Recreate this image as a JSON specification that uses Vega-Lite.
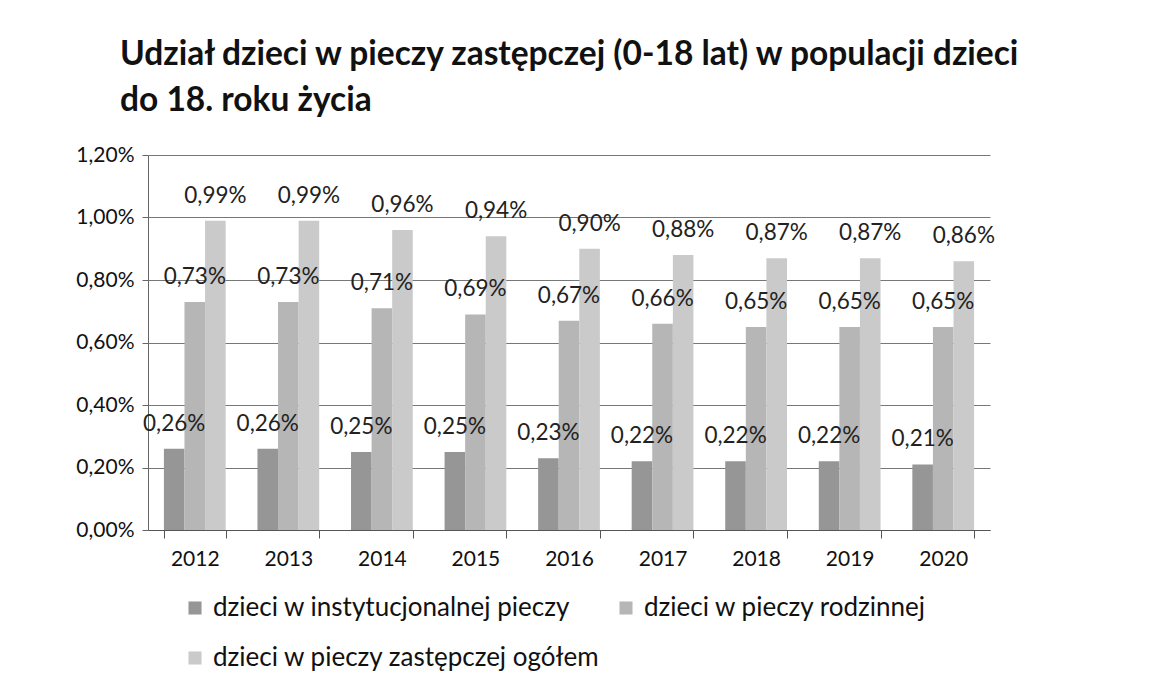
{
  "$schema": "https://vega.github.io/schema/vega-lite/v6.json",
  "width": 842,
  "height": 375,
  "autosize": {"type": "none"},
  "padding": {"left": 148, "top": 155, "right": 177, "bottom": 162},
  "background": "white",
  "title": {
    "text": ["Udział dzieci w pieczy zastępczej (0-18 lat) w populacji dzieci", "do 18. roku życia"],
    "anchor": "start",
    "frame": "group",
    "dx": -28,
    "offset": 26,
    "font": "Lato",
    "fontSize": 33.5,
    "fontWeight": "bold",
    "color": "#111",
    "lineHeight": 46
  },
  "config": {
    "locale": {"number": {"decimal": ",", "thousands": " ", "grouping": [3], "currency": ["", " zł"]}},
    "view": {"stroke": null},
    "font": "Lato"
  },
  "data": {
    "values": [
      {"rok": "2012", "seria": "dzieci w instytucjonalnej pieczy", "wartosc": 0.0026},
      {"rok": "2013", "seria": "dzieci w instytucjonalnej pieczy", "wartosc": 0.0026},
      {"rok": "2014", "seria": "dzieci w instytucjonalnej pieczy", "wartosc": 0.0025},
      {"rok": "2015", "seria": "dzieci w instytucjonalnej pieczy", "wartosc": 0.0025},
      {"rok": "2016", "seria": "dzieci w instytucjonalnej pieczy", "wartosc": 0.0023},
      {"rok": "2017", "seria": "dzieci w instytucjonalnej pieczy", "wartosc": 0.0022},
      {"rok": "2018", "seria": "dzieci w instytucjonalnej pieczy", "wartosc": 0.0022},
      {"rok": "2019", "seria": "dzieci w instytucjonalnej pieczy", "wartosc": 0.0022},
      {"rok": "2020", "seria": "dzieci w instytucjonalnej pieczy", "wartosc": 0.0021},
      {"rok": "2012", "seria": "dzieci w pieczy rodzinnej", "wartosc": 0.0073},
      {"rok": "2013", "seria": "dzieci w pieczy rodzinnej", "wartosc": 0.0073},
      {"rok": "2014", "seria": "dzieci w pieczy rodzinnej", "wartosc": 0.0071},
      {"rok": "2015", "seria": "dzieci w pieczy rodzinnej", "wartosc": 0.0069},
      {"rok": "2016", "seria": "dzieci w pieczy rodzinnej", "wartosc": 0.0067},
      {"rok": "2017", "seria": "dzieci w pieczy rodzinnej", "wartosc": 0.0066},
      {"rok": "2018", "seria": "dzieci w pieczy rodzinnej", "wartosc": 0.0065},
      {"rok": "2019", "seria": "dzieci w pieczy rodzinnej", "wartosc": 0.0065},
      {"rok": "2020", "seria": "dzieci w pieczy rodzinnej", "wartosc": 0.0065},
      {"rok": "2012", "seria": "dzieci w pieczy zastępczej ogółem", "wartosc": 0.0099},
      {"rok": "2013", "seria": "dzieci w pieczy zastępczej ogółem", "wartosc": 0.0099},
      {"rok": "2014", "seria": "dzieci w pieczy zastępczej ogółem", "wartosc": 0.0096},
      {"rok": "2015", "seria": "dzieci w pieczy zastępczej ogółem", "wartosc": 0.0094},
      {"rok": "2016", "seria": "dzieci w pieczy zastępczej ogółem", "wartosc": 0.0090},
      {"rok": "2017", "seria": "dzieci w pieczy zastępczej ogółem", "wartosc": 0.0088},
      {"rok": "2018", "seria": "dzieci w pieczy zastępczej ogółem", "wartosc": 0.0087},
      {"rok": "2019", "seria": "dzieci w pieczy zastępczej ogółem", "wartosc": 0.0087},
      {"rok": "2020", "seria": "dzieci w pieczy zastępczej ogółem", "wartosc": 0.0086}
    ]
  },
  "encoding": {
    "x": {
      "field": "rok", "type": "nominal",
      "scale": {"paddingInner": 0.34, "paddingOuter": 0.17},
      "axis": {
        "title": null, "labelAngle": 0, "labelFontSize": 21, "labelColor": "#111",
        "labelPadding": 10, "tickBand": "extent", "tickSize": 8, "tickColor": "#555",
        "domainColor": "#555", "grid": false
      }
    },
    "xOffset": {
      "field": "seria", "type": "nominal",
      "scale": {"domain": ["dzieci w instytucjonalnej pieczy", "dzieci w pieczy rodzinnej", "dzieci w pieczy zastępczej ogółem"], "paddingInner": 0}
    },
    "y": {
      "field": "wartosc", "type": "quantitative",
      "scale": {"domain": [0, 0.012]},
      "axis": {
        "title": null, "format": ".2%", "values": [0, 0.002, 0.004, 0.006, 0.008, 0.010, 0.012],
        "labelFontSize": 21, "labelColor": "#111", "labelPadding": 8,
        "tickSize": 6, "tickColor": "#666", "domainColor": "#666",
        "gridColor": "#777", "gridWidth": 1
      }
    }
  },
  "layer": [
    {
      "mark": {"type": "bar"},
      "encoding": {
        "color": {
          "field": "seria", "type": "nominal",
          "scale": {
            "domain": ["dzieci w instytucjonalnej pieczy", "dzieci w pieczy rodzinnej", "dzieci w pieczy zastępczej ogółem"],
            "range": ["#969696", "#b6b6b6", "#cacaca"]
          },
          "legend": {
            "title": null, "orient": "none", "legendX": 34, "legendY": 440,
            "direction": "horizontal", "columns": 2, "columnPadding": 12, "rowPadding": 24,
            "symbolType": "square", "symbolSize": 170, "symbolStrokeWidth": 0,
            "labelFontSize": 26, "labelColor": "#111", "labelLimit": 600, "labelOffset": 5
          }
        }
      }
    },
    {
      "mark": {"type": "text", "baseline": "bottom", "dy": -13, "fontSize": 22.5, "color": "#222"},
      "encoding": {
        "text": {"field": "wartosc", "type": "quantitative", "format": ".2%"}
      }
    }
  ]
}
